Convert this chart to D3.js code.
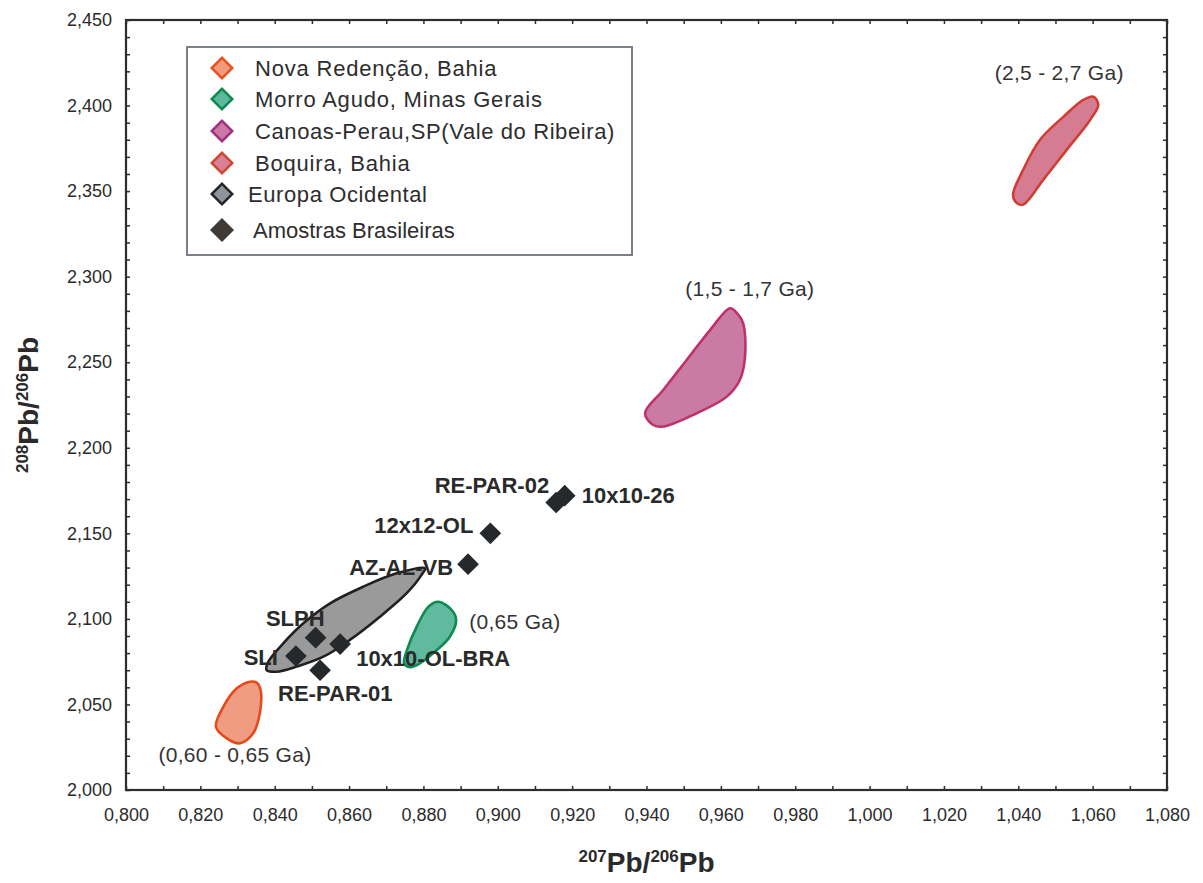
<!DOCTYPE html>
<html>
<head>
<meta charset="utf-8">
<script src="https://cdn.jsdelivr.net/npm/d3@7"></script>
<style>
  html, body { margin: 0; padding: 0; background: #fff; }
  svg { display: block; font-family: "Liberation Sans", Arial, sans-serif; }
</style>
</head>
<body>
<svg id="chart" width="1203" height="883"></svg>
<script>
// ---------------- DATA ----------------
const xTickValues = [0.80, 0.82, 0.84, 0.86, 0.88, 0.90, 0.92, 0.94, 0.96, 0.98, 1.00, 1.02, 1.04, 1.06, 1.08];
const yTickValues = [2.000, 2.050, 2.100, 2.150, 2.200, 2.250, 2.300, 2.350, 2.400, 2.450];

const legendLabels = [
  "Nova Redenção, Bahia",
  "Morro Agudo, Minas Gerais",
  "Canoas-Perau,SP(Vale do Ribeira)",
  "Boquira, Bahia",
  "Europa Ocidental",
  "Amostras Brasileiras"
];

// Field outlines (207Pb/206Pb, 208Pb/206Pb)
const novaRedencaoX = [0.8352, 0.8362, 0.8360, 0.8342, 0.8307, 0.8271, 0.8242, 0.8262, 0.8298, 0.8334];
const novaRedencaoY = [2.0627, 2.0584, 2.0450, 2.0331, 2.0273, 2.0302, 2.0370, 2.0487, 2.0594, 2.0633];

const morroAgudoX = [0.8840, 0.8876, 0.8888, 0.8871, 0.8836, 0.8791, 0.8764, 0.8748, 0.8759, 0.8782, 0.8813];
const morroAgudoY = [2.1100, 2.1052, 2.0994, 2.0896, 2.0818, 2.0741, 2.0718, 2.0741, 2.0838, 2.0955, 2.1070];

const canoasPerauX = [0.9625, 0.9644, 0.9660, 0.9665, 0.9651, 0.9616, 0.9535, 0.9445, 0.9418, 0.9396, 0.9445, 0.9508, 0.9571];
const canoasPerauY = [2.2815, 2.2785, 2.2727, 2.2532, 2.2396, 2.2299, 2.2202, 2.2124, 2.2133, 2.2202, 2.2338, 2.2513, 2.2688];

const boquiraX = [1.0602, 1.0615, 1.0593, 1.0530, 1.0467, 1.0413, 1.0396, 1.0386, 1.0413, 1.0458, 1.0521, 1.0575];
const boquiraY = [2.4052, 2.4004, 2.3916, 2.3741, 2.3566, 2.3421, 2.3430, 2.3479, 2.3624, 2.3799, 2.3934, 2.4033];

const europaX = [0.8804, 0.8728, 0.8638, 0.8549, 0.8477, 0.8423, 0.8383, 0.8378, 0.8405, 0.8459, 0.8531, 0.8602, 0.8683, 0.8755, 0.8795];
const europaY = [2.1296, 2.1266, 2.1188, 2.1091, 2.0974, 2.0857, 2.0750, 2.0701, 2.0691, 2.0721, 2.0779, 2.0877, 2.1013, 2.1150, 2.1257];

// Brazilian samples
const sampleNames = ["RE-PAR-02", "10x10-26", "12x12-OL", "AZ-AL-VB", "SLPH", "10x10-OL-BRA", "SLI", "RE-PAR-01"];
const sampleX = [0.9157, 0.9180, 0.8980, 0.8920, 0.8510, 0.8576, 0.8457, 0.8522];
const sampleY = [2.1680, 2.1720, 2.1500, 2.1320, 2.0890, 2.0853, 2.0783, 2.0700];

// Age annotations
const ageLabels = ["(2,5 - 2,7 Ga)", "(1,5 - 1,7 Ga)", "(0,65 Ga)", "(0,60 - 0,65 Ga)"];
const ageX = [1.0510, 0.9678, 0.9046, 0.8293];
const ageY = [2.4190, 2.2928, 2.0982, 2.0205];

// ---------------- LAYOUT / STYLE ----------------
const plot = { left: 126, right: 1167, top: 20, bottom: 790 };

const x = d3.scaleLinear().domain([0.8, 1.08]).range([plot.left, plot.right]);
const y = d3.scaleLinear().domain([2.0, 2.45]).range([plot.bottom, plot.top]);

const svg = d3.select("#chart");
const fmt = d => d3.format(".3f")(d).replace(".", ",");

const fieldStyles = [
  { fill: "#ef9c82", stroke: "#e64a19" },
  { fill: "#5fba9e", stroke: "#0e8a52" },
  { fill: "#c97ba3", stroke: "#c0306a" },
  { fill: "#d67c92", stroke: "#d13d32" },
  { fill: "#9a9a9b", stroke: "#231f20" }
];
const legendStyles = [
  { fill: "#f19a7c", stroke: "#e8501c" },
  { fill: "#5cb89b", stroke: "#0a8a50" },
  { fill: "#cc78a6", stroke: "#a0307e" },
  { fill: "#d98096", stroke: "#cf4630" },
  { fill: "#8e959b", stroke: "#222629" },
  { fill: "#3f3a36", stroke: "#3f3a36" }
];

// ---------------- FIELDS ----------------
const fields = [
  [novaRedencaoX, novaRedencaoY],
  [morroAgudoX, morroAgudoY],
  [canoasPerauX, canoasPerauY],
  [boquiraX, boquiraY],
  [europaX, europaY]
];
const line = d3.line()
  .x(d => x(d[0])).y(d => y(d[1]))
  .curve(d3.curveCatmullRomClosed.alpha(0.5));

fields.forEach((f, i) => {
  const pts = f[0].map((v, k) => [v, f[1][k]]);
  svg.append("path")
    .attr("d", line(pts))
    .attr("fill", fieldStyles[i].fill)
    .attr("stroke", fieldStyles[i].stroke)
    .attr("stroke-width", 2.6)
    .attr("stroke-linejoin", "round");
});

// ---------------- SAMPLES ----------------
const diamond = d3.symbol().type(d3.symbolSquare).size(235);
svg.append("g").selectAll("path")
  .data(sampleX.map((v, i) => [v, sampleY[i]]))
  .join("path")
  .attr("d", diamond)
  .attr("transform", d => `translate(${x(d[0])},${y(d[1])}) rotate(45)`)
  .attr("fill", "#26292b");

const labelOffsets = [
  { dx: -7, dy: -10, anchor: "end" },
  { dx: 17, dy: 7, anchor: "start" },
  { dx: -17, dy: 0, anchor: "end" },
  { dx: -15, dy: 11, anchor: "end" },
  { dx: 9, dy: -12, anchor: "end" },
  { dx: 16, dy: 22, anchor: "start" },
  { dx: -18, dy: 9, anchor: "end" },
  { dx: -42, dy: 31, anchor: "start" }
];
svg.append("g").selectAll("text")
  .data(sampleNames)
  .join("text")
  .attr("x", (d, i) => x(sampleX[i]) + labelOffsets[i].dx)
  .attr("y", (d, i) => y(sampleY[i]) + labelOffsets[i].dy)
  .attr("text-anchor", (d, i) => labelOffsets[i].anchor)
  .attr("font-size", 22)
  .attr("font-weight", "bold")
  .attr("fill", "#2a2a2a")
  .text(d => d);

// ---------------- AGE ANNOTATIONS ----------------
svg.append("g").selectAll("text")
  .data(ageLabels)
  .join("text")
  .attr("x", (d, i) => x(ageX[i]))
  .attr("y", (d, i) => y(ageY[i]) + 7)
  .attr("text-anchor", "middle")
  .attr("font-size", 21)
  .attr("letter-spacing", 0.3)
  .attr("fill", "#333")
  .text(d => d);

// ---------------- AXES ----------------
const xMinor = d3.range(0, 29).map(i => 0.8 + i * 0.01);
const yMinor = d3.range(0, 46).map(i => 2.0 + i * 0.01);
const tickStyle = g => {
  g.select(".domain").remove();
  g.selectAll("line").attr("stroke", "#2b2e30").attr("stroke-width", 1.5);
};

svg.append("g").attr("transform", `translate(0,${plot.bottom})`)
  .call(d3.axisBottom(x).tickValues(xMinor).tickSize(-4).tickFormat("")).call(tickStyle);
svg.append("g").attr("transform", `translate(0,${plot.top})`)
  .call(d3.axisTop(x).tickValues(xMinor).tickSize(-4).tickFormat("")).call(tickStyle);
svg.append("g").attr("transform", `translate(${plot.left},0)`)
  .call(d3.axisLeft(y).tickValues(yMinor).tickSize(-4).tickFormat("")).call(tickStyle);
svg.append("g").attr("transform", `translate(${plot.right},0)`)
  .call(d3.axisRight(y).tickValues(yMinor).tickSize(-4).tickFormat("")).call(tickStyle);

// tick labels
svg.append("g").attr("transform", `translate(0,${plot.bottom})`)
  .call(d3.axisBottom(x).tickValues(xTickValues).tickSize(0).tickPadding(18).tickFormat(fmt))
  .call(g => g.select(".domain").remove())
  .call(g => g.selectAll("text").attr("font-size", 18).attr("fill", "#2b2b2b")
    .attr("font-family", "Liberation Sans, Arial, sans-serif"));
svg.append("g").attr("transform", `translate(${plot.left},0)`)
  .call(d3.axisLeft(y).tickValues(yTickValues).tickSize(0).tickPadding(14).tickFormat(fmt))
  .call(g => g.select(".domain").remove())
  .call(g => g.selectAll("text").attr("font-size", 18).attr("fill", "#2b2b2b")
    .attr("font-family", "Liberation Sans, Arial, sans-serif"));

// frame
svg.append("rect")
  .attr("x", plot.left).attr("y", plot.top)
  .attr("width", plot.right - plot.left).attr("height", plot.bottom - plot.top)
  .attr("fill", "none").attr("stroke", "#2b2e30").attr("stroke-width", 2.2);

// axis titles
function isoTitle(sel, a, b) {
  sel.attr("font-weight", "bold").attr("fill", "#2a2a2a").attr("text-anchor", "middle");
  sel.append("tspan").attr("font-size", 17).attr("dy", -10).text(a);
  sel.append("tspan").attr("font-size", 28).attr("dy", 10).text("Pb/");
  sel.append("tspan").attr("font-size", 17).attr("dy", -10).text(b);
  sel.append("tspan").attr("font-size", 28).attr("dy", 10).text("Pb");
}
const xt = svg.append("text").attr("x", (plot.left + plot.right) / 2).attr("y", 872);
isoTitle(xt, "207", "206");
const yt = svg.append("text").attr("transform", `translate(38,${(plot.top + plot.bottom) / 2}) rotate(-90)`);
isoTitle(yt, "208", "206");

// ---------------- LEGEND ----------------
const lg = svg.append("g");
lg.append("rect").attr("x", 187).attr("y", 47).attr("width", 445).attr("height", 208)
  .attr("fill", "#fff").attr("stroke", "#7b8088").attr("stroke-width", 2);
const legendY = [68, 99, 131, 163, 194, 230];
const legendTextX = [255, 255, 255, 255, 248, 253];
const legendSpacing = [0.8, 0.8, 0.6, 0.8, 0.6, 0];
const legendMarker = d3.symbol().type(d3.symbolSquare).size(210);
legendLabels.forEach((lab, i) => {
  lg.append("path").attr("d", legendMarker)
    .attr("transform", `translate(222,${legendY[i]}) rotate(45)`)
    .attr("fill", legendStyles[i].fill)
    .attr("stroke", legendStyles[i].stroke)
    .attr("stroke-width", 2.5);
  lg.append("text").attr("x", legendTextX[i]).attr("y", legendY[i] + 8)
    .attr("font-size", 22).attr("letter-spacing", legendSpacing[i])
    .attr("fill", "#2d2d2d").text(lab);
});
</script>
</body>
</html>
